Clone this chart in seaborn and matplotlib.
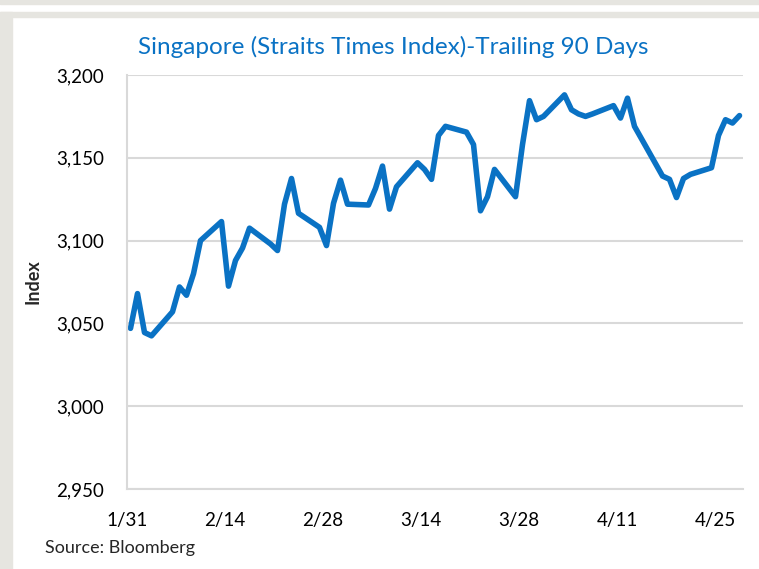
import pandas as pd
import matplotlib
matplotlib.use('Agg')
import matplotlib.pyplot as plt
import matplotlib.ticker as mticker
import matplotlib.dates as mdates
from matplotlib.patches import Rectangle
import seaborn as sns

# STI closes, trading days only (weekends / Good Friday skipped)
dates = [
	'2017-01-31', '2017-02-01', '2017-02-02', '2017-02-03',
	'2017-02-06', '2017-02-07', '2017-02-08', '2017-02-09', '2017-02-10',
	'2017-02-13', '2017-02-14', '2017-02-15', '2017-02-16', '2017-02-17',
	'2017-02-20', '2017-02-21', '2017-02-22', '2017-02-23', '2017-02-24',
	'2017-02-27', '2017-02-28', '2017-03-01', '2017-03-02', '2017-03-03',
	'2017-03-06', '2017-03-07', '2017-03-08', '2017-03-09', '2017-03-10',
	'2017-03-13', '2017-03-14', '2017-03-15', '2017-03-16', '2017-03-17',
	'2017-03-20', '2017-03-21', '2017-03-22', '2017-03-23', '2017-03-24',
	'2017-03-27', '2017-03-28', '2017-03-29', '2017-03-30', '2017-03-31',
	'2017-04-03', '2017-04-04', '2017-04-05', '2017-04-06', '2017-04-07',
	'2017-04-10', '2017-04-11', '2017-04-12', '2017-04-13',
	'2017-04-17', '2017-04-18', '2017-04-19', '2017-04-20', '2017-04-21',
	'2017-04-24', '2017-04-25', '2017-04-26', '2017-04-27', '2017-04-28',
]
index_values = [
	3047, 3068, 3044.5, 3042.5,
	3057, 3072, 3067, 3080, 3100,
	3111.5, 3072.5, 3088, 3095.5, 3107.5,
	3098, 3094, 3122, 3137.5, 3116.5,
	3108, 3097, 3122.5, 3136.5, 3122,
	3121.5, 3131.5, 3145, 3119, 3132.5,
	3147, 3143, 3137, 3163.5, 3169,
	3165.5, 3158, 3118, 3126.5, 3143,
	3126.5, 3158, 3184.5, 3173, 3175,
	3188, 3179, 3176.5, 3175, 3176.5,
	3181.5, 3174, 3186, 3169,
	3139, 3137, 3126, 3137.5, 3140,
	3144, 3163.5, 3173, 3171, 3175.5,
]
tick_dates = ['2017-01-31', '2017-02-14', '2017-02-28', '2017-03-14',
	'2017-03-28', '2017-04-11', '2017-04-25']
y_ticks = [2950, 3000, 3050, 3100, 3150, 3200]

TITLE = 'Singapore (Straits Times Index)-Trailing 90 Days'
BLUE = '#0a72c4'
GRID = '#d9d9d9'
FRAME = '#e6e5e0'

sns.set_theme(style='white')
plt.rcParams['font.family'] = ['Lato', 'DejaVu Sans']

df = pd.DataFrame({'date': pd.to_datetime(dates), 'index': index_values})
# points sit between the date ticks, like the excel date axis
df['date'] = df['date'] + pd.Timedelta(hours=12)

W, H = 759, 569
fig = plt.figure(figsize=(W / 100, H / 100), dpi=100)
fig.patch.set_facecolor('white')

# grey frame bits around the panel
fig.patches.append(Rectangle((0, 1 - 4 / H), 1, 4 / H, transform=fig.transFigure, color=FRAME, zorder=0))
fig.patches.append(Rectangle((0, 1 - 17 / H), 1, 5 / H, transform=fig.transFigure, color=FRAME, zorder=0))
fig.patches.append(Rectangle((0, 0), 12 / W, 1 - 12 / H, transform=fig.transFigure, color=FRAME, zorder=0))

ax = fig.add_axes([127 / W, 1 - 489 / H, (743 - 127) / W, (489 - 75) / H])
sns.lineplot(data=df, x='date', y='index', color=BLUE, linewidth=4, ax=ax)

ax.set_xlim(pd.Timestamp('2017-01-31'), pd.Timestamp('2017-04-29'))
ax.set_ylim(2950, 3200)
ax.set_xticks(pd.to_datetime(tick_dates))
ax.xaxis.set_major_formatter(mticker.FuncFormatter(
	lambda v, p: f"{mdates.num2date(v).month}/{mdates.num2date(v).day}"))
ax.set_yticks(y_ticks)
ax.yaxis.set_major_formatter(mticker.StrMethodFormatter('{x:,.0f}'))

ax.grid(axis='y', color=GRID, linewidth=1.5)
ax.grid(axis='x', visible=False)
for s in ['top', 'right']:
	ax.spines[s].set_visible(False)
for s in ['left', 'bottom']:
	ax.spines[s].set_color(GRID)
	ax.spines[s].set_linewidth(1.5)
ax.tick_params(axis='both', direction='out', length=5.5, width=1.2, color=GRID,
	labelsize=13.5, labelcolor='black')
ax.tick_params(axis='x', pad=11)
ax.tick_params(axis='y', pad=11)

ax.set_xlabel('')
ax.set_ylabel('Index', fontsize=13, fontweight='bold')
ax.yaxis.label.set_va('center')
ax.yaxis.set_label_coords((33 - 127) / (743 - 127), 0.5)

fig.text(393 / W, 1 - 54 / H, TITLE, color=BLUE, fontsize=17.5, ha='center', va='baseline')
fig.text(45 / W, 1 - 548 / H, 'Source: Bloomberg', fontsize=13, ha='left', va='center')

fig.savefig('out.png', dpi=100, facecolor=fig.get_facecolor())
plt.close(fig)
